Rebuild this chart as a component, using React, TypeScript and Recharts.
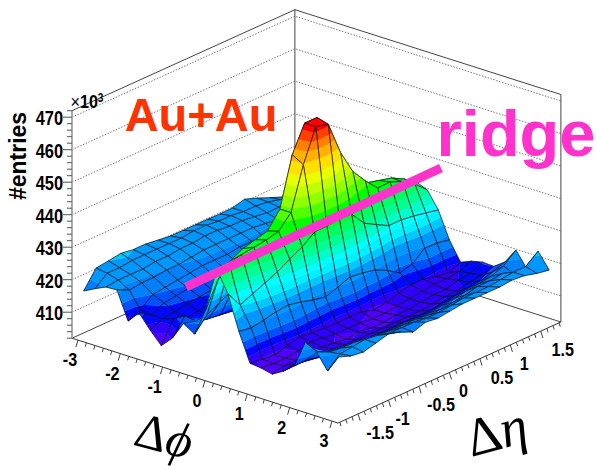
import React from 'react';
import { ScatterChart, Scatter, XAxis, YAxis } from 'recharts';

const WIDTH = 597;
const HEIGHT = 470;

// bin centres of the correlation histogram
const phiBins = [-3.011, -2.749, -2.487, -2.225, -1.963, -1.702, -1.44, -1.178, -0.916, -0.654, -0.393, -0.131,
  0.131, 0.393, 0.654, 0.916, 1.178, 1.44, 1.702, 1.963, 2.225, 2.487, 2.749, 3.011];
const etaBins = [-1.728, -1.525, -1.322, -1.118, -0.915, -0.712, -0.508, -0.305, -0.102,
  0.102, 0.305, 0.508, 0.712, 0.915, 1.118, 1.322, 1.525, 1.728];

// entries / 1000, one row per eta bin, low eta first
const row0 = [416.2, 418, 419.6, 419.8, 411.3, 414.9, 410.7, 407, 410.4, 416, 413.8, 422.3, 436, 429.5, 419, 410.3, 409.9, 409.1, 411.1, 413.8, 422.2, 420.3, 415.5, 420.9];
const row1 = [421.5, 421, 420, 418, 413, 412.5, 412.5, 413.5, 415.5, 415, 418, 430, 436, 424.3, 418.3, 409.8, 409.5, 410, 411.5, 414, 417.5, 418.5, 419, 419.5];
const row2 = [422, 421, 420, 418.5, 416, 414.5, 413, 412, 412, 414, 420, 434, 437, 426, 419, 409.4, 409.5, 410, 411, 413, 416, 418, 419.5, 419];
const row3 = [422.6, 421.5, 420, 418.5, 416.5, 415, 413.5, 412.5, 412, 413.5, 422, 436, 437.5, 427.6, 419.8, 410.4, 410, 410.5, 411, 413, 415.5, 418, 420, 420];
const row4 = [422, 421.5, 420.5, 419, 417, 415.5, 414, 413, 412.5, 413, 424, 437, 438, 429.3, 420.2, 411.5, 411, 410.5, 411, 412.5, 415, 417, 419.5, 421];
const row5 = [422, 421.5, 420.5, 419, 417.5, 416, 414.5, 413, 412.5, 413, 426, 438, 439, 431.5, 419.4, 411, 410.5, 410, 410.5, 412, 414.5, 417, 418.5, 420];
const row6 = [421.5, 421.5, 421, 419.5, 418, 416, 414.5, 413, 412.5, 413.5, 430, 443, 443, 433.5, 418.3, 410.7, 410, 409.5, 410.5, 412, 414.5, 416.5, 418.5, 418.2];
const row7 = [421, 421.5, 421, 420, 418, 416, 414.5, 413.5, 413, 414, 436, 458, 456, 436.4, 417.5, 410.5, 410, 410, 410.5, 412, 414, 416.5, 418.5, 419.5];
const row8 = [421, 422, 421.5, 420, 418, 416.5, 415, 413.5, 413, 414.5, 440, 466, 466, 436.5, 418.8, 410.7, 410, 409.5, 410.5, 412, 414.5, 416.5, 418, 419];
const row9 = [421, 422, 421.5, 420, 418.5, 416.5, 415, 414, 413.5, 415, 440, 466, 465, 437, 420.2, 410.5, 409.5, 409.5, 410.5, 412, 414, 416, 418, 419.5];
const row10 = [421, 421.5, 421, 420, 418.5, 416.5, 415, 414, 413.5, 415, 438, 460, 454.5, 436.7, 419.7, 409.4, 409.5, 410, 410.5, 412, 414, 416, 418.5, 420];
const row11 = [420.9, 421.5, 421, 420, 418, 416.5, 415, 414, 413.5, 414.5, 434, 448, 447, 432.2, 418.9, 410, 410, 410, 410.5, 412, 414.5, 416.5, 419, 420];
const row12 = [421, 421, 420.5, 419.5, 418, 416.5, 415, 413.5, 413, 414, 430, 443, 442.4, 430, 417, 411, 410.5, 410.5, 411, 412.5, 415, 417, 419, 420];
const row13 = [422, 421, 420, 419, 418, 416, 414.5, 413.5, 413, 414, 428, 439, 438.5, 428, 414.5, 412, 411, 411, 411.5, 413, 415.5, 418, 419, 420];
const row14 = [420.6, 420.5, 420, 419, 417.5, 416, 414.5, 413.5, 413, 414, 427, 438, 438.6, 428, 415.5, 412, 411.5, 411, 411.5, 413.5, 416, 418, 419.5, 420.4];
const row15 = [419, 419.5, 419.5, 419, 418, 416.5, 415, 414, 413.5, 414, 426, 437, 437, 427.5, 418.7, 411, 411.5, 412, 412.5, 414, 416.5, 418.5, 420, 420];
const row16 = [417.5, 418, 419, 419, 418, 416.5, 415, 414, 413.5, 414, 425, 435, 434.5, 426.7, 418.5, 410.5, 412, 412.5, 413, 415, 418, 416.5, 420, 419];
const row17 = [416.5, 417, 418, 418, 417, 416, 414.5, 414, 413.5, 414, 424, 432.4, 431, 425.9, 417.8, 412, 413.4, 414.2, 414, 416.4, 421.2, 416.4, 423, 418.3];
const surface = [row0, row1, row2, row3, row4, row5, row6, row7, row8, row9, row10, row11, row12, row13, row14, row15, row16, row17];

const zTicks = [410, 420, 430, 440, 450, 460, 470];
const phiTicks = [-3, -2, -1, 0, 1, 2, 3];
const etaTicks = [-1.5, -1, -0.5, 0, 0.5, 1, 1.5];

// contour colours, low to high, and the level where each next colour starts
const bandColors = ['#5000ff', '#3000ff', '#0008ff', '#0050ff', '#0080ff', '#0098ff', '#00c8ff', '#00f0ff', '#00ffff', '#00ffc8', '#00ff90',
  '#00ff60', '#00ff30', '#00ff00', '#50ff00', '#90ff00', '#c0ff00', '#e8ff00', '#ffe000', '#ffb000', '#ff8000', '#ff4000', '#ff0000'];
const bandLevels = [410, 412, 414, 416, 419, 422, 424, 426, 428, 430.5, 433, 435.5, 438, 441, 444, 447, 450, 453, 456.5, 459.5, 462, 464.5];

const PHI_MAX = Math.PI;
const ETA_MAX = 1.83;
const Z_MIN = 402;
const Z_MAX = 472;

// fixed view of the lego box, front corner at (338, 423)
const project = (phi: number, eta: number, z: number) => ({
  x: 338 - (PHI_MAX - phi) * 42.34 + (eta + ETA_MAX) * 60.9,
  y: 423 - (PHI_MAX - phi) * 13.5 - (eta + ETA_MAX) * 27.6 - (z - Z_MIN) * 3.25,
});

type Pt = { x: number; y: number };
type PathDef = { pts: Pt[]; fill?: string; stroke?: string; width?: number; dash?: string; closed?: boolean };
type V3 = { phi: number; eta: number; z: number };

const clipZ = (poly: V3[], limit: number, keepAbove: boolean) => {
  const out: V3[] = [];
  poly.forEach((a, i) => {
    const b = poly[(i + 1) % poly.length];
    const aIn = keepAbove ? a.z >= limit : a.z <= limit;
    const bIn = keepAbove ? b.z >= limit : b.z <= limit;
    if (aIn) out.push(a);
    if (aIn !== bIn) {
      const t = (limit - a.z) / (b.z - a.z);
      out.push({ phi: a.phi + (b.phi - a.phi) * t, eta: a.eta + (b.eta - a.eta) * t, z: limit });
    }
  });
  return out;
};

const surfacePaths = () => {
  const paths: PathDef[] = [];
  for (let j = 0; j < phiBins.length - 1; j++) {
    for (let k = etaBins.length - 1; k > 0; k--) {
      const v = (jj: number, kk: number) => ({ phi: phiBins[jj], eta: etaBins[kk], z: surface[kk][jj] });
      const quad = [v(j, k), v(j + 1, k), v(j + 1, k - 1), v(j, k - 1)];
      bandColors.forEach((color, b) => {
        let poly = quad;
        if (b > 0) poly = clipZ(poly, bandLevels[b - 1], true);
        if (b < bandLevels.length && poly.length) poly = clipZ(poly, bandLevels[b], false);
        if (poly.length > 2) {
          paths.push({ pts: poly.map(p => project(p.phi, p.eta, p.z)), fill: color, stroke: color, width: 0.4, closed: true });
        }
      });
      paths.push({ pts: quad.map(p => project(p.phi, p.eta, p.z)), stroke: '#111', width: 0.7, closed: true });
    }
  }
  return paths;
};

const boxPaths = () => {
  const paths: PathDef[] = [];
  zTicks.forEach(z => {
    paths.push({
      pts: [project(-PHI_MAX, -ETA_MAX, z), project(-PHI_MAX, ETA_MAX, z), project(PHI_MAX, ETA_MAX, z)],
      stroke: '#777', width: 1, dash: '1.5 1.5',
    });
  });
  const edge = (a: Pt, b: Pt, color = '#444', width = 1) => paths.push({ pts: [a, b], stroke: color, width });
  const corners = (z: number) => [
    project(-PHI_MAX, -ETA_MAX, z), project(-PHI_MAX, ETA_MAX, z), project(PHI_MAX, ETA_MAX, z), project(PHI_MAX, -ETA_MAX, z),
  ];
  const low = corners(Z_MIN);
  const high = corners(Z_MAX);
  edge(high[0], high[1]);
  edge(high[1], high[2]);
  edge(low[1], high[1]);
  edge(low[2], high[2]);
  edge(low[0], low[1]);
  edge(low[1], low[2]);
  edge(low[0], low[3], '#333');
  edge(low[3], low[2], '#333');
  edge(low[0], high[0], '#aaa', 2);
  for (let z = Z_MIN; z <= Z_MAX; z += 2) {
    const p = project(-PHI_MAX, -ETA_MAX, z);
    edge({ x: p.x - (z % 10 === 0 ? 9 : 5), y: p.y }, p, '#555');
  }
  for (let t = -15; t <= 15; t++) {
    const p = project(t / 5, -ETA_MAX, Z_MIN);
    const len = t % 5 === 0 ? 7 : 4;
    edge(p, { x: p.x - len * 0.3, y: p.y + len }, '#444');
  }
  for (let t = -18; t <= 18; t++) {
    const p = project(PHI_MAX, t / 10, Z_MIN);
    const len = t % 5 === 0 ? 7 : 4;
    edge(p, { x: p.x + len * 0.3, y: p.y + len }, '#444');
  }
  return paths;
};

type Lbl = { x: number; y: number; text: React.ReactNode; size: number; rot?: number; sx?: number; color?: string; family?: string; bold?: boolean; anchor?: string };

const tickFont = '"Liberation Sans", Arial, sans-serif';
const labels: Lbl[] = [
  ...zTicks.map(z => {
    const p = project(-PHI_MAX, -ETA_MAX, z);
    return { x: 63, y: p.y + 8, text: String(z), size: 20, sx: 0.82, anchor: 'end' };
  }),
  ...phiTicks.map(t => {
    const p = project(t, -ETA_MAX, Z_MIN);
    return { x: p.x - 8, y: p.y + 26, text: String(t), size: 19, sx: 0.85 };
  }),
  ...etaTicks.map(t => {
    const p = project(PHI_MAX, t, Z_MIN);
    const dx = String(t).length >= 3 ? 22 : 14;
    return { x: p.x + dx, y: p.y + 25, text: String(t), size: 19, sx: 0.85 };
  }),
  { x: 26, y: 156, text: '#entries', size: 23, rot: -90 },
  { x: 87, y: 108, text: <><tspan fontWeight="normal">×</tspan>{'10'}<tspan dy={-6} fontSize={12}>3</tspan></>, size: 19, sx: 0.85 },
  { x: 201, y: 131, text: 'Au+Au', size: 47, color: '#ff3300' },
  { x: 516, y: 156, text: 'ridge', size: 65, color: '#ff33cc' },
  { x: 160, y: 452, text: <>{'Δ'}<tspan fontStyle="italic">{'ϕ'}</tspan></>, size: 50, rot: 15, family: '"Liberation Serif", serif', bold: false },
  { x: 501, y: 449, text: <>{'Δ'}<tspan fontStyle="italic">η</tspan></>, size: 54, rot: -15, family: '"Liberation Serif", serif', bold: false },
];

// pink annotation along the ridge
const ridgeLine: Pt[] = [{ x: 186, y: 287 }, { x: 441, y: 168 }];

const renderPaths = (paths: PathDef[]) => (props: any) => {
  let n = 0;
  return (
    <g>
      {paths.map((p, i) => {
        const seg: Pt[] = props.points.slice(n, n + p.pts.length);
        n += p.pts.length;
        const d = seg.map((q, m) => `${m ? 'L' : 'M'}${q.x.toFixed(1)} ${q.y.toFixed(1)}`).join('') + (p.closed ? 'Z' : '');
        return <path key={i} d={d} fill={p.fill || 'none'} stroke={p.stroke || 'none'} strokeWidth={p.width || 1} strokeDasharray={p.dash} strokeLinejoin="round" />;
      })}
    </g>
  );
};

const pathLayer = (name: string, paths: PathDef[]) => (
  <Scatter
    key={name}
    data={paths.flatMap(p => p.pts)}
    dataKey="y"
    line={renderPaths(paths)}
    shape={() => <g />}
    isAnimationActive={false}
  />
);

const LabelShape = (props: any) => {
  const { cx, cy, payload } = props;
  const l: Lbl = payload;
  const transform = `translate(${cx},${cy})${l.rot ? ` rotate(${l.rot})` : ''}${l.sx ? ` scale(${l.sx},1)` : ''}`;
  return (
    <text
      transform={transform}
      textAnchor={(l.anchor as any) || 'middle'}
      fontFamily={l.family || tickFont}
      fontWeight={l.bold === false ? 'normal' : 'bold'}
      fontSize={l.size}
      fill={l.color || '#000'}
    >
      {l.text}
    </text>
  );
};

export default function App() {
  return (
    <div style={{ position: 'absolute', left: 0, top: 0, width: WIDTH, height: HEIGHT, background: '#fff' }}>
      <ScatterChart width={WIDTH} height={HEIGHT} margin={{ top: 0, right: 0, bottom: 0, left: 0 }}>
        <XAxis type="number" dataKey="x" domain={[0, WIDTH]} hide />
        <YAxis type="number" dataKey="y" domain={[0, HEIGHT]} reversed hide />
        {pathLayer('box', boxPaths())}
        {pathLayer('surface', surfacePaths())}
        {pathLayer('ridge', [{ pts: ridgeLine, stroke: '#ff33cc', width: 9 }])}
        <Scatter data={labels} dataKey="y" shape={LabelShape} isAnimationActive={false} />
      </ScatterChart>
    </div>
  );
}
